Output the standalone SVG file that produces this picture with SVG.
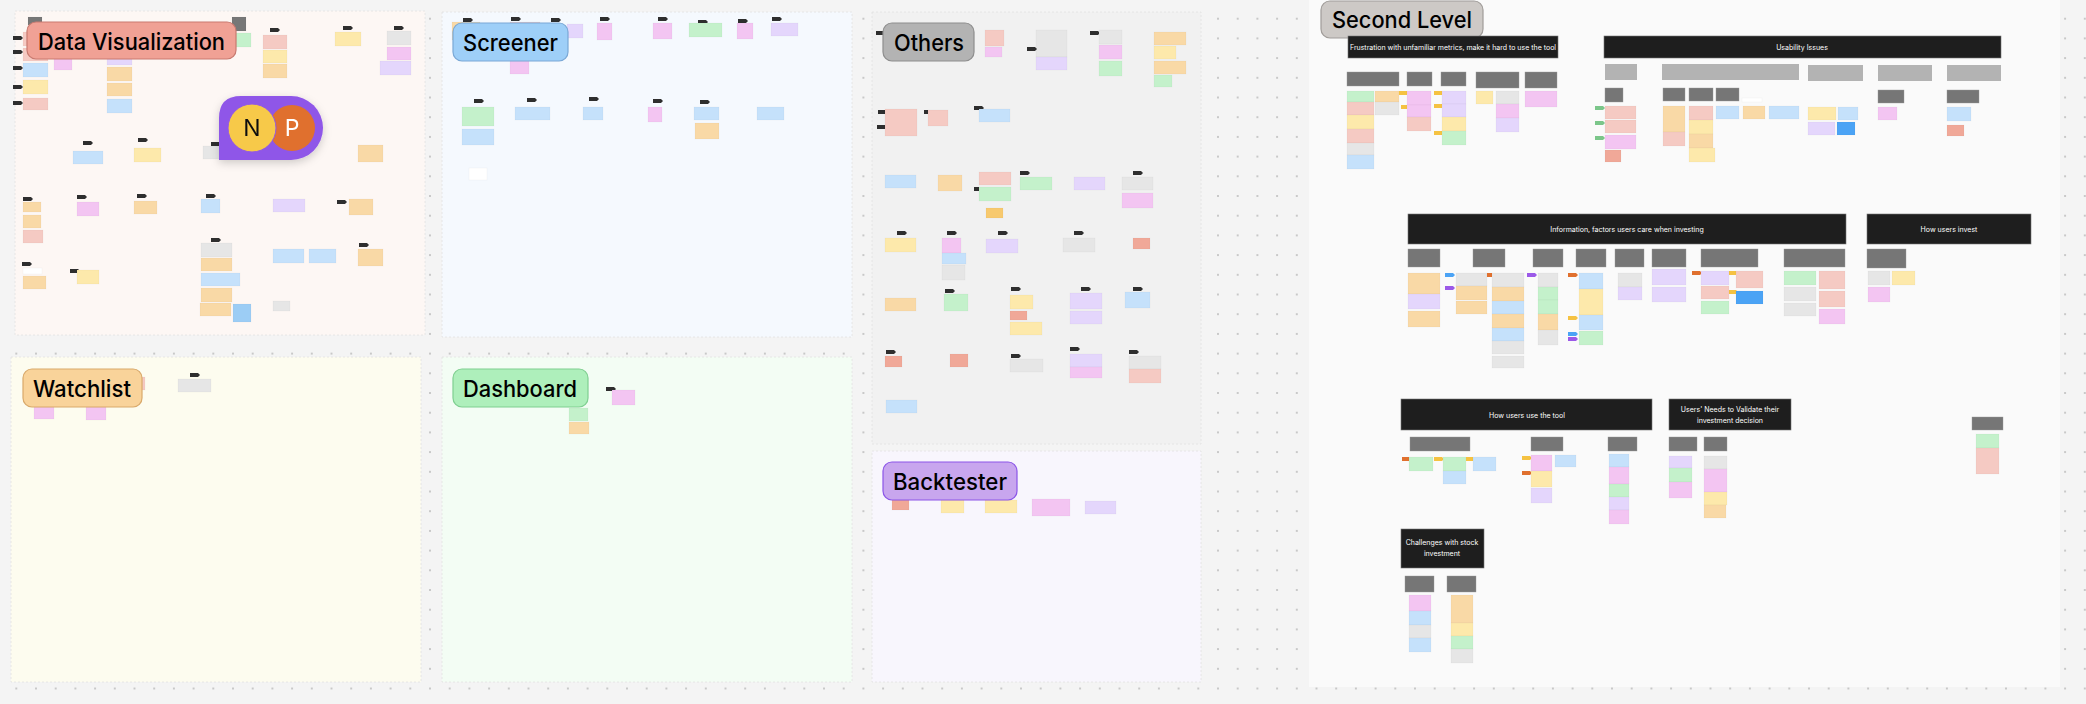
<svg xmlns="http://www.w3.org/2000/svg" xmlns:xlink="http://www.w3.org/1999/xlink" width="2086" height="704" viewBox="0 0 2086 704">
<defs>
<pattern id="dots" patternUnits="userSpaceOnUse" x="6.45" y="8.85" width="19.7" height="19.7"><circle cx="9.85" cy="9.85" r="1" fill="#b9b9b9"/></pattern>
<path id="tag" d="M0,0h8l2,2l-2,2h-8z"/>
<filter id="sh" x="-20%" y="-20%" width="140%" height="160%"><feDropShadow dx="0" dy="3" stdDeviation="4" flood-color="#000" flood-opacity="0.18"/></filter>
</defs>
<style>
.frame{stroke:#e2e2e2;stroke-width:0.8;stroke-dasharray:2 2}
.pill{stroke-width:1.2}
.pt{font-family:Inter,"Noto Sans",sans-serif;font-weight:500;font-size:23px;fill:#000}
.hd{fill:#1e1e1e;stroke:#777;stroke-width:0.6}
.ht{font-family:Inter,"Noto Sans",sans-serif;font-size:7px;fill:#fff;text-anchor:middle}
.sh{fill:#767676;stroke:#999;stroke-width:0.4}
.lg{fill:#b3b3b3}
rect.s{stroke:#000;stroke-opacity:0.05;stroke-width:0.6}
.sa{fill:#f5cac3}.or{fill:#f9d9a6}.ye{fill:#fde9ab}.gr{fill:#c4f1cb}.bl{fill:#c5e1fb}.pu{fill:#e4d6fc}.pk{fill:#f3c5f2}.gy{fill:#e6e6e6}.rd{fill:#f0a898}.bb{fill:#4ba3f5}.lb{fill:#9ccdf5}.wh{fill:#ffffff}.dk{fill:#777777}
.tg{fill:#2e2e2e}.ty{fill:#f5c242}.to{fill:#e0702e}.tgr{fill:#7bc68a}.tb{fill:#4ba3f5}.tp{fill:#9b59e8}
</style>
<rect width="2086" height="704" fill="#f4f4f4"/>
<rect width="2086" height="704" fill="url(#dots)"/>

<!-- Frames -->
<g id="frame-data-visualization">
<rect class="frame" x="15" y="11" width="410" height="324" fill="#fdf7f4"/>
<rect class="s dk" x="28" y="17" width="14" height="8"/>
<rect class="s dk" x="232" y="17" width="14" height="14"/>
<use href="#tag" class="tg" x="13" y="36"/><use href="#tag" class="tg" x="13" y="50"/><use href="#tag" class="tg" x="13" y="66"/><use href="#tag" class="tg" x="13" y="85"/><use href="#tag" class="tg" x="13" y="101"/>
<rect class="s sa" x="23" y="32" width="25" height="14"/><rect class="s sa" x="23" y="48" width="25" height="13"/><rect class="s bl" x="23" y="63" width="25" height="14"/><rect class="s ye" x="23" y="80" width="25" height="14"/><rect class="s sa" x="23" y="98" width="25" height="12"/>
<rect class="s pk" x="54" y="59" width="18" height="11"/>
<rect class="s pu" x="107" y="59" width="25" height="6"/><rect class="s or" x="107" y="67" width="25" height="14"/><rect class="s or" x="107" y="83" width="25" height="13"/><rect class="s bl" x="107" y="99" width="25" height="14"/>
<rect class="s gr" x="236" y="33" width="15" height="14"/>
<use href="#tag" class="tg" x="270" y="28"/><rect class="s sa" x="263" y="35" width="24" height="14"/><rect class="s ye" x="263" y="50" width="24" height="13"/><rect class="s or" x="263" y="64" width="24" height="14"/>
<use href="#tag" class="tg" x="343" y="26"/><rect class="s ye" x="335" y="32" width="26" height="14"/>
<use href="#tag" class="tg" x="394" y="26"/><rect class="s gy" x="387" y="31" width="24" height="14"/><rect class="s pk" x="387" y="47" width="24" height="13"/><rect class="s pu" x="380" y="61" width="31" height="14"/>
<use href="#tag" class="tg" x="83" y="141"/><rect class="s bl" x="73" y="151" width="30" height="13"/>
<use href="#tag" class="tg" x="138" y="138"/><rect class="s ye" x="134" y="148" width="27" height="14"/>
<rect class="s gy" x="203" y="146" width="17" height="13"/><use href="#tag" class="tg" x="211" y="142"/>
<rect class="s or" x="358" y="145" width="25" height="17"/>
<use href="#tag" class="tg" x="23" y="197"/><rect class="s or" x="23" y="202" width="18" height="10"/><rect class="s or" x="23" y="215" width="18" height="13"/><rect class="s sa" x="23" y="230" width="20" height="13"/>
<use href="#tag" class="tg" x="77" y="195"/><rect class="s pk" x="77" y="202" width="22" height="14"/>
<use href="#tag" class="tg" x="137" y="194"/><rect class="s or" x="134" y="201" width="23" height="13"/>
<use href="#tag" class="tg" x="206" y="194"/><rect class="s bl" x="201" y="199" width="19" height="14"/>
<rect class="s pu" x="273" y="199" width="32" height="13"/>
<use href="#tag" class="tg" x="337" y="200"/><rect class="s or" x="349" y="199" width="24" height="16"/>
<use href="#tag" class="tg" x="22" y="262"/><rect class="s wh" x="23" y="268" width="19" height="6"/><rect class="s or" x="23" y="276" width="23" height="13"/>
<use href="#tag" class="tg" x="70" y="269"/><rect class="s ye" x="77" y="270" width="22" height="14"/>
<use href="#tag" class="tg" x="211" y="238"/><rect class="s gy" x="201" y="243" width="31" height="14"/><rect class="s or" x="201" y="258" width="31" height="13"/><rect class="s bl" x="201" y="273" width="39" height="13"/><rect class="s or" x="201" y="288" width="31" height="14"/><rect class="s or" x="200" y="303" width="31" height="13"/><rect class="s lb" x="233" y="304" width="18" height="18"/>
<rect class="s bl" x="273" y="249" width="31" height="14"/><rect class="s bl" x="309" y="249" width="27" height="14"/>
<use href="#tag" class="tg" x="359" y="243"/><rect class="s or" x="358" y="249" width="25" height="17"/>
<rect class="s gy" x="273" y="301" width="17" height="10"/>
<rect class="pill" x="27" y="22" width="209" height="37" rx="9" fill="#f0a195" stroke="#c97a70"/>
<text class="pt" x="38" y="50" textLength="187" lengthAdjust="spacingAndGlyphs">Data Visualization</text>
</g>

<g id="np-logo" filter="url(#sh)">
<path d="M219,160 L219,118 Q219,96 241,96 L291,96 A32,32 0 0 1 291,160 Z" fill="#8f56e8"/>
<circle cx="292" cy="128" r="23" fill="#e0702e"/>
<circle cx="252" cy="128" r="24" fill="#f7c948" stroke="#8f56e8" stroke-width="1"/>
<text x="252" y="136" font-family="Inter,'Noto Sans',sans-serif" font-size="23" text-anchor="middle" fill="#111">N</text>
<text x="292" y="136" font-family="Inter,'Noto Sans',sans-serif" font-size="23" text-anchor="middle" fill="#fff">P</text>
</g>

<g id="frame-watchlist">
<rect class="frame" x="11" y="357" width="410" height="325" fill="#fdfcef"/>
<rect class="s sa" x="140" y="377" width="5" height="13"/>
<use href="#tag" class="tg" x="190" y="373"/><rect class="s gy" x="178" y="379" width="33" height="13"/>
<rect class="s pk" x="34" y="407" width="20" height="12"/><rect class="s pk" x="86" y="407" width="20" height="13"/>
<rect class="pill" x="23" y="369" width="119" height="38" rx="9" fill="#f9d39a" stroke="#d9a96a"/>
<text class="pt" x="33" y="397" textLength="98" lengthAdjust="spacingAndGlyphs">Watchlist</text>
</g>

<g id="frame-screener">
<rect class="frame" x="442" y="12" width="410" height="325" fill="#f5f9fe"/>
<use href="#tag" class="tg" x="463" y="18"/><rect class="s or" x="452" y="22" width="28" height="18"/>
<use href="#tag" class="tg" x="511" y="17"/><rect class="s sa" x="510" y="22" width="30" height="18"/><rect class="s pk" x="510" y="61" width="19" height="13"/>
<use href="#tag" class="tg" x="551" y="18"/><rect class="s pu" x="567" y="24" width="16" height="14"/>
<use href="#tag" class="tg" x="600" y="17"/><rect class="s pk" x="597" y="23" width="15" height="17"/>
<use href="#tag" class="tg" x="658" y="17"/><rect class="s pk" x="653" y="23" width="19" height="16"/>
<use href="#tag" class="tg" x="698" y="20"/><rect class="s gr" x="689" y="23" width="33" height="14"/>
<use href="#tag" class="tg" x="738" y="19"/><rect class="s pk" x="737" y="23" width="16" height="16"/>
<use href="#tag" class="tg" x="772" y="17"/><rect class="s pu" x="771" y="23" width="27" height="13"/>
<use href="#tag" class="tg" x="474" y="99"/><rect class="s gr" x="462" y="107" width="32" height="19"/><rect class="s bl" x="462" y="129" width="32" height="16"/>
<use href="#tag" class="tg" x="527" y="98"/><rect class="s bl" x="515" y="107" width="35" height="13"/>
<use href="#tag" class="tg" x="589" y="97"/><rect class="s bl" x="583" y="107" width="20" height="13"/>
<use href="#tag" class="tg" x="653" y="99"/><rect class="s pk" x="648" y="107" width="14" height="15"/>
<use href="#tag" class="tg" x="700" y="100"/><rect class="s bl" x="694" y="107" width="25" height="13"/><rect class="s or" x="695" y="123" width="24" height="16"/>
<rect class="s bl" x="757" y="107" width="27" height="13"/>
<rect class="s wh" x="469" y="168" width="18" height="12"/>
<rect class="pill" x="453" y="23" width="115" height="38" rx="9" fill="#9ecff8" stroke="#7aa8d6"/>
<text class="pt" x="463" y="51" textLength="95" lengthAdjust="spacingAndGlyphs">Screener</text>
</g>

<g id="frame-dashboard">
<rect class="frame" x="442" y="357" width="410" height="325" fill="#f3fdf4"/>
<use href="#tag" class="tg" x="606" y="387"/><rect class="s pk" x="612" y="390" width="23" height="15"/>
<rect class="s gr" x="569" y="408" width="19" height="13"/><rect class="s or" x="569" y="422" width="20" height="12"/>
<rect class="pill" x="453" y="369" width="135" height="38" rx="9" fill="#aeefbb" stroke="#7fcf90"/>
<text class="pt" x="463" y="397" textLength="114" lengthAdjust="spacingAndGlyphs">Dashboard</text>
</g>

<g id="frame-others">
<rect class="frame" x="872" y="12" width="329" height="432" fill="#f1f1f1"/>
<use href="#tag" class="tg" x="876" y="31"/>
<rect class="s sa" x="985" y="30" width="19" height="16"/><rect class="s pk" x="985" y="47" width="17" height="10"/>
<rect class="s gy" x="1036" y="30" width="31" height="27"/><use href="#tag" class="tg" x="1027" y="47"/><rect class="s pu" x="1036" y="57" width="31" height="13"/>
<use href="#tag" class="tg" x="1090" y="31"/><rect class="s gy" x="1099" y="30" width="23" height="14"/><rect class="s pk" x="1099" y="45" width="23" height="14"/><rect class="s gr" x="1099" y="61" width="23" height="15"/>
<rect class="s or" x="1154" y="32" width="32" height="13"/><rect class="s ye" x="1154" y="46" width="22" height="13"/><rect class="s or" x="1154" y="61" width="32" height="13"/><rect class="s gr" x="1154" y="75" width="18" height="12"/>
<use href="#tag" class="tg" x="878" y="110"/><use href="#tag" class="tg" x="877" y="125"/><rect class="s sa" x="885" y="109" width="32" height="27"/>
<use href="#tag" class="tg" x="924" y="110"/><rect class="s sa" x="928" y="110" width="20" height="16"/>
<use href="#tag" class="tg" x="974" y="106"/><rect class="s bl" x="979" y="109" width="31" height="13"/>
<rect class="s bl" x="885" y="175" width="31" height="13"/>
<rect class="s or" x="938" y="175" width="24" height="16"/>
<rect class="s sa" x="979" y="172" width="32" height="13"/><use href="#tag" class="tg" x="974" y="187"/><rect class="s gr" x="979" y="187" width="32" height="14"/><rect class="s or" x="986" y="208" width="17" height="10" style="fill:#f7c96e"/>
<use href="#tag" class="tg" x="1020" y="171"/><rect class="s gr" x="1020" y="177" width="32" height="13"/>
<rect class="s pu" x="1074" y="177" width="31" height="13"/>
<use href="#tag" class="tg" x="1133" y="171"/><rect class="s gy" x="1122" y="177" width="31" height="13"/><rect class="s pk" x="1122" y="193" width="31" height="15"/>
<use href="#tag" class="tg" x="897" y="231"/><rect class="s ye" x="885" y="238" width="31" height="14"/>
<use href="#tag" class="tg" x="947" y="231"/><rect class="s pk" x="942" y="238" width="19" height="15"/><rect class="s bl" x="942" y="253" width="24" height="11"/><rect class="s gy" x="942" y="265" width="23" height="15"/>
<use href="#tag" class="tg" x="998" y="231"/><rect class="s pu" x="986" y="239" width="32" height="14"/>
<use href="#tag" class="tg" x="1074" y="231"/><rect class="s gy" x="1063" y="238" width="32" height="14"/>
<rect class="s rd" x="1133" y="238" width="17" height="11"/>
<rect class="s or" x="885" y="298" width="31" height="13"/>
<use href="#tag" class="tg" x="945" y="289"/><rect class="s gr" x="944" y="294" width="24" height="17"/>
<use href="#tag" class="tg" x="1011" y="287"/><rect class="s ye" x="1010" y="295" width="23" height="14"/><rect class="s rd" x="1010" y="311" width="17" height="9"/><rect class="s ye" x="1010" y="322" width="32" height="13"/>
<use href="#tag" class="tg" x="1081" y="287"/><rect class="s pu" x="1070" y="293" width="32" height="16"/><rect class="s pu" x="1070" y="311" width="32" height="13"/>
<use href="#tag" class="tg" x="1133" y="287"/><rect class="s bl" x="1125" y="292" width="25" height="16"/>
<use href="#tag" class="tg" x="886" y="350"/><rect class="s rd" x="885" y="356" width="17" height="11"/>
<rect class="s rd" x="950" y="354" width="18" height="13"/>
<use href="#tag" class="tg" x="1011" y="354"/><rect class="s gy" x="1010" y="359" width="33" height="13"/>
<use href="#tag" class="tg" x="1070" y="347"/><rect class="s pu" x="1070" y="354" width="32" height="13"/><rect class="s pk" x="1070" y="367" width="32" height="11"/>
<use href="#tag" class="tg" x="1129" y="350"/><rect class="s gy" x="1129" y="356" width="32" height="13"/><rect class="s sa" x="1129" y="369" width="32" height="14"/>
<rect class="s bl" x="886" y="400" width="31" height="13"/>
<rect class="pill" x="883" y="23" width="91" height="38" rx="9" fill="#b3b3b3" stroke="#8e8e8e"/>
<text class="pt" x="894" y="51" textLength="70" lengthAdjust="spacingAndGlyphs">Others</text>
</g>

<g id="frame-backtester">
<rect class="frame" x="872" y="451" width="329" height="231" fill="#f8f6fd"/>
<rect class="s rd" x="892" y="500" width="17" height="10"/>
<rect class="s ye" x="941" y="500" width="23" height="13"/>
<rect class="s ye" x="985" y="500" width="32" height="13"/>
<rect class="s pk" x="1032" y="499" width="38" height="17"/>
<rect class="s pu" x="1085" y="501" width="31" height="13"/>
<rect class="pill" x="883" y="462" width="134" height="38" rx="9" fill="#c8a6ee" stroke="#8b55e8"/>
<text class="pt" x="893" y="490" textLength="114" lengthAdjust="spacingAndGlyphs">Backtester</text>
</g>

<g id="frame-second-level">
<rect x="1309" y="0" width="751" height="687" fill="#fafafa"/>
<rect class="pill" x="1321" y="1" width="162" height="37" rx="9" fill="#cdc9c6" stroke="#a09c99"/>
<text class="pt" x="1332" y="28" textLength="140" lengthAdjust="spacingAndGlyphs">Second Level</text>
</g>

<g id="group-frustration">
<rect class="hd" x="1348" y="36" width="210" height="22"/>
<text class="ht" x="1453" y="49.5" font-size="6">Frustration with unfamiliar metrics, make it hard to use the tool</text>
<rect class="sh" x="1347" y="72" width="52" height="14"/><rect class="sh" x="1407" y="72" width="25" height="14"/><rect class="sh" x="1441" y="72" width="25" height="14"/><rect class="sh" x="1476" y="72" width="43" height="16"/><rect class="sh" x="1525" y="72" width="32" height="16"/>
<rect class="s gr" x="1347" y="91" width="27" height="11"/><rect class="s sa" x="1347" y="102" width="27" height="13"/><rect class="s ye" x="1347" y="115" width="27" height="14"/><rect class="s sa" x="1347" y="129" width="27" height="14"/><rect class="s gy" x="1347" y="143" width="27" height="12"/><rect class="s bl" x="1347" y="155" width="27" height="14"/>
<rect class="s or" x="1375" y="91" width="24" height="11"/><rect class="s gy" x="1375" y="102" width="24" height="13"/>
<use href="#tag" class="ty" x="1399" y="91"/><use href="#tag" class="ty" x="1401" y="105"/>
<rect class="s pk" x="1407" y="91" width="24" height="14"/><rect class="s pk" x="1407" y="105" width="24" height="12"/><rect class="s sa" x="1407" y="117" width="24" height="14"/>
<use href="#tag" class="ty" x="1434" y="91"/><use href="#tag" class="ty" x="1434" y="104"/><use href="#tag" class="ty" x="1434" y="131"/>
<rect class="s pu" x="1442" y="91" width="24" height="13"/><rect class="s pu" x="1442" y="104" width="24" height="13"/><rect class="s ye" x="1442" y="117" width="24" height="14"/><rect class="s gr" x="1442" y="131" width="24" height="14"/>
<rect class="s ye" x="1476" y="91" width="17" height="13"/>
<rect class="s gy" x="1496" y="91" width="23" height="13"/><rect class="s pk" x="1496" y="104" width="23" height="14"/><rect class="s pu" x="1496" y="118" width="23" height="14"/>
<rect class="s pk" x="1525" y="91" width="32" height="16"/>
</g>

<g id="group-usability">
<rect class="hd" x="1604" y="36" width="397" height="22"/>
<text class="ht" x="1802" y="49.5" font-size="6.5">Usability Issues</text>
<rect class="lg" x="1605" y="64" width="32" height="16"/><rect class="lg" x="1662" y="64" width="137" height="16"/><rect class="lg" x="1808" y="65" width="55" height="16"/><rect class="lg" x="1878" y="65" width="54" height="16"/><rect class="lg" x="1947" y="65" width="54" height="16"/>
<rect class="sh" x="1605" y="88" width="18" height="14"/>
<use href="#tag" class="tgr" x="1595" y="106"/><use href="#tag" class="tgr" x="1595" y="121"/><use href="#tag" class="tgr" x="1595" y="136"/>
<rect class="s sa" x="1605" y="106" width="31" height="13"/><rect class="s sa" x="1605" y="120" width="31" height="13"/><rect class="s pk" x="1605" y="135" width="31" height="14"/><rect class="s rd" x="1605" y="150" width="16" height="12"/>
<rect class="sh" x="1663" y="88" width="22" height="13"/><rect class="sh" x="1689" y="88" width="24" height="13"/><rect class="sh" x="1716" y="88" width="23" height="13"/>
<rect class="s or" x="1663" y="106" width="22" height="26"/><rect class="s sa" x="1663" y="132" width="22" height="14"/>
<rect class="s sa" x="1689" y="106" width="24" height="14"/><rect class="s ye" x="1689" y="120" width="24" height="14"/><rect class="s or" x="1689" y="134" width="24" height="14"/><rect class="s ye" x="1689" y="148" width="26" height="14"/>
<rect class="s bl" x="1716" y="106" width="23" height="13"/>
<rect class="s wh" x="1742" y="98" width="20" height="4"/>
<rect class="s or" x="1743" y="106" width="22" height="13"/>
<rect class="s bl" x="1769" y="106" width="30" height="13"/>
<rect class="s ye" x="1808" y="107" width="28" height="13"/><rect class="s bl" x="1838" y="107" width="20" height="13"/><rect class="s pu" x="1808" y="122" width="27" height="13"/><rect class="s bb" x="1837" y="122" width="18" height="13"/>
<rect class="sh" x="1878" y="90" width="26" height="13"/><rect class="s pk" x="1878" y="107" width="19" height="13"/>
<rect class="sh" x="1947" y="90" width="32" height="13"/><rect class="s bl" x="1947" y="107" width="24" height="14"/><rect class="s rd" x="1947" y="125" width="17" height="11"/>
</g>

<g id="group-information">
<rect class="hd" x="1408" y="214" width="438" height="30"/>
<text class="ht" x="1627" y="232" font-size="7.5">Information, factors users care when investing</text>
<rect class="sh" x="1408" y="249" width="32" height="18"/><rect class="sh" x="1473" y="249" width="32" height="18"/><rect class="sh" x="1533" y="249" width="30" height="18"/><rect class="sh" x="1576" y="249" width="30" height="18"/><rect class="sh" x="1615" y="249" width="29" height="18"/><rect class="sh" x="1652" y="249" width="34" height="18"/><rect class="sh" x="1701" y="249" width="57" height="18"/><rect class="sh" x="1784" y="249" width="61" height="18"/>
<rect class="s or" x="1408" y="273" width="32" height="21"/><rect class="s pu" x="1408" y="294" width="32" height="15"/><rect class="s or" x="1408" y="311" width="32" height="16"/>
<use href="#tag" class="tb" x="1445" y="273"/><use href="#tag" class="tp" x="1445" y="286"/>
<rect class="s gy" x="1456" y="273" width="31" height="13"/><rect class="s or" x="1456" y="286" width="31" height="14"/><rect class="s or" x="1456" y="301" width="31" height="13"/>
<use href="#tag" class="to" x="1487" y="273"/>
<rect class="s gy" x="1492" y="273" width="32" height="14"/><rect class="s or" x="1492" y="287" width="32" height="14"/><rect class="s bl" x="1492" y="301" width="32" height="13"/><rect class="s or" x="1492" y="314" width="32" height="14"/><rect class="s bl" x="1492" y="328" width="32" height="13"/><rect class="s gy" x="1492" y="341" width="32" height="13"/><rect class="s gy" x="1492" y="356" width="32" height="12"/>
<use href="#tag" class="tp" x="1527" y="273"/>
<rect class="s gy" x="1538" y="273" width="20" height="14"/><rect class="s gr" x="1538" y="287" width="20" height="13"/><rect class="s gr" x="1538" y="300" width="20" height="14"/><rect class="s or" x="1538" y="314" width="20" height="16"/><rect class="s gy" x="1538" y="330" width="20" height="15"/>
<use href="#tag" class="to" x="1568" y="273"/><use href="#tag" class="ty" x="1568" y="316"/><use href="#tag" class="tb" x="1568" y="332"/><use href="#tag" class="tp" x="1568" y="337"/>
<rect class="s bl" x="1579" y="273" width="24" height="16"/><rect class="s ye" x="1579" y="289" width="24" height="26"/><rect class="s bl" x="1579" y="315" width="24" height="15"/><rect class="s gr" x="1579" y="331" width="24" height="14"/>
<rect class="s gy" x="1618" y="273" width="24" height="14"/><rect class="s pu" x="1618" y="287" width="24" height="13"/>
<rect class="s pu" x="1652" y="269" width="34" height="16"/><rect class="s pu" x="1652" y="287" width="34" height="15"/>
<use href="#tag" class="to" x="1692" y="271"/><use href="#tag" class="ty" x="1728" y="271"/><use href="#tag" class="ty" x="1728" y="290"/>
<rect class="s pu" x="1701" y="271" width="28" height="14"/><rect class="s sa" x="1701" y="286" width="28" height="13"/><rect class="s gr" x="1701" y="301" width="28" height="13"/>
<rect class="s sa" x="1736" y="271" width="27" height="17"/><rect class="s bb" x="1736" y="291" width="27" height="13"/>
<rect class="s gr" x="1784" y="271" width="32" height="14"/><rect class="s gy" x="1784" y="287" width="32" height="14"/><rect class="s gy" x="1784" y="303" width="32" height="13"/>
<rect class="s sa" x="1819" y="271" width="26" height="18"/><rect class="s sa" x="1819" y="291" width="26" height="16"/><rect class="s pk" x="1819" y="309" width="26" height="15"/>
</g>

<g id="group-how-users-invest">
<rect class="hd" x="1867" y="214" width="164" height="30"/>
<text class="ht" x="1949" y="232" font-size="7.5">How users invest</text>
<rect class="sh" x="1867" y="249" width="39" height="19"/>
<rect class="s gy" x="1868" y="271" width="22" height="14"/><rect class="s pk" x="1868" y="287" width="22" height="15"/>
<rect class="s ye" x="1892" y="271" width="23" height="14"/>
</g>

<g id="group-how-users-use-tool">
<rect class="hd" x="1401" y="399" width="251" height="31"/>
<text class="ht" x="1527" y="418" font-size="7.5">How users use the tool</text>
<rect class="sh" x="1410" y="437" width="60" height="14"/><rect class="sh" x="1531" y="437" width="32" height="14"/><rect class="sh" x="1608" y="437" width="29" height="14"/>
<use href="#tag" class="to" x="1402" y="457"/><rect class="s gr" x="1409" y="457" width="24" height="14"/>
<use href="#tag" class="ty" x="1434" y="457"/><rect class="s gr" x="1443" y="457" width="23" height="14"/><rect class="s bl" x="1443" y="471" width="23" height="13"/>
<use href="#tag" class="ty" x="1466" y="457"/><rect class="s bl" x="1473" y="457" width="23" height="14"/>
<use href="#tag" class="ty" x="1522" y="456"/><use href="#tag" class="to" x="1522" y="471"/>
<rect class="s pk" x="1531" y="455" width="21" height="16"/><rect class="s ye" x="1531" y="471" width="21" height="16"/><rect class="s pu" x="1531" y="488" width="21" height="15"/>
<rect class="s bl" x="1555" y="455" width="21" height="12"/>
<rect class="s bl" x="1609" y="454" width="20" height="13"/><rect class="s pk" x="1609" y="467" width="20" height="17"/><rect class="s gr" x="1609" y="484" width="20" height="13"/><rect class="s pu" x="1609" y="497" width="20" height="13"/><rect class="s pk" x="1609" y="510" width="20" height="14"/>
</g>

<g id="group-users-needs">
<rect class="hd" x="1669" y="399" width="122" height="31"/>
<text class="ht" x="1730" y="411.5" font-size="7.5">Users' Needs to Validate their</text>
<text class="ht" x="1730" y="422.5" font-size="7.5">investment decision</text>
<rect class="sh" x="1669" y="437" width="28" height="14"/><rect class="sh" x="1704" y="437" width="23" height="14"/>
<rect class="s pu" x="1669" y="456" width="23" height="12"/><rect class="s gr" x="1669" y="468" width="23" height="14"/><rect class="s pk" x="1669" y="482" width="23" height="16"/>
<rect class="s gy" x="1704" y="456" width="23" height="13"/><rect class="s pk" x="1704" y="469" width="23" height="23"/><rect class="s ye" x="1704" y="492" width="23" height="13"/><rect class="s or" x="1704" y="505" width="22" height="13"/>
</g>

<g id="group-challenges">
<rect class="hd" x="1401" y="529" width="83" height="39"/>
<text class="ht" x="1442" y="545" font-size="7.5">Challenges with stock</text>
<text class="ht" x="1442" y="556" font-size="7.5">investment</text>
<rect class="sh" x="1405" y="576" width="29" height="16"/><rect class="sh" x="1447" y="576" width="29" height="16"/>
<rect class="s pk" x="1409" y="595" width="22" height="16"/><rect class="s bl" x="1409" y="611" width="22" height="14"/><rect class="s gy" x="1409" y="625" width="22" height="13"/><rect class="s bl" x="1409" y="638" width="22" height="14"/>
<rect class="s or" x="1451" y="595" width="22" height="28"/><rect class="s ye" x="1451" y="623" width="22" height="13"/><rect class="s gr" x="1451" y="636" width="22" height="13"/><rect class="s gy" x="1451" y="649" width="22" height="14"/>
</g>

<g id="group-right">
<rect class="sh" x="1972" y="417" width="31" height="13"/>
<rect class="s gr" x="1976" y="434" width="23" height="14"/><rect class="s sa" x="1976" y="448" width="23" height="26"/>
</g>

<g id="connectors"></g>
</svg>
